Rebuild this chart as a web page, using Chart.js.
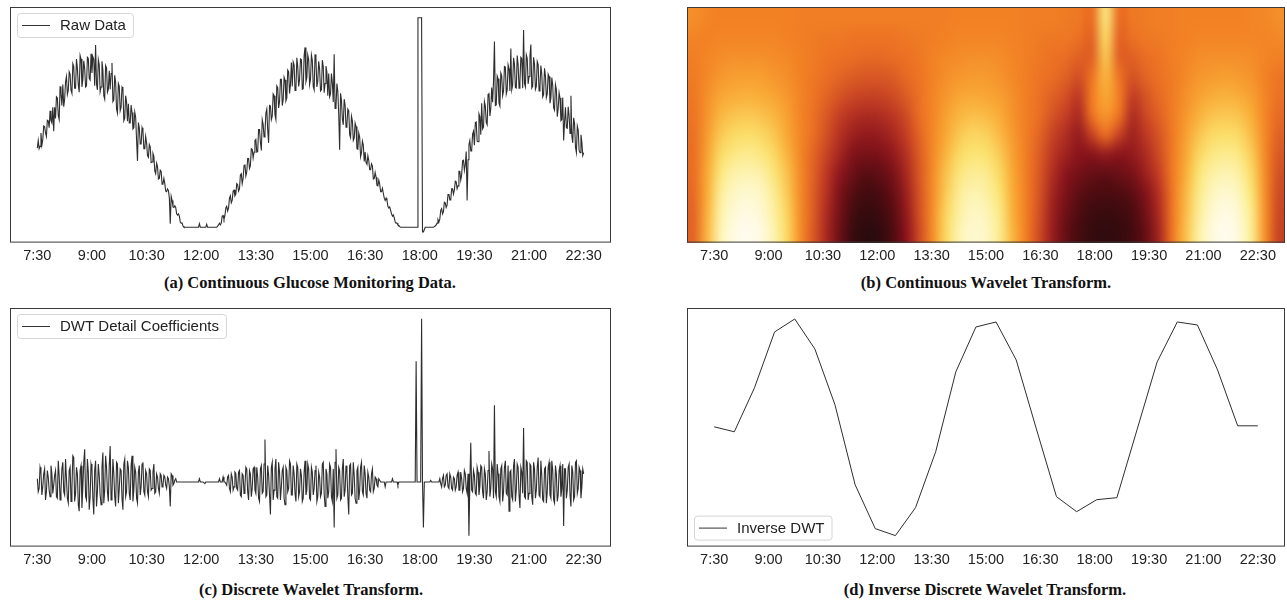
<!DOCTYPE html>
<html>
<head>
<meta charset="utf-8">
<script src="https://cdn.jsdelivr.net/npm/chart.js@4.4.1/dist/chart.umd.min.js"></script>
<style>
  body { margin: 0; background: #fff; width: 1287px; height: 607px; position: relative; overflow: hidden; }
  .panel { position: absolute; }
  .caption { position: absolute; width: 600px; text-align: center; white-space: nowrap;
             font-family: "Liberation Serif", serif; font-weight: bold; font-size: 16.5px; line-height: 20px; color: #111; }
</style>
</head>
<body>
<div class="panel" style="left:0;top:0"><canvas id="rawChart" width="625" height="270"></canvas></div>
<div class="panel" style="left:677px;top:0"><canvas id="cwtChart" width="610" height="270"></canvas></div>
<div class="panel" style="left:0;top:300px"><canvas id="dwtChart" width="625" height="275"></canvas></div>
<div class="panel" style="left:677px;top:300px"><canvas id="idwtChart" width="610" height="275"></canvas></div>

<div class="caption" style="left:10px;top:273px">(a) Continuous Glucose Monitoring Data.</div>
<div class="caption" style="left:686px;top:273px">(b) Continuous Wavelet Transform.</div>
<div class="caption" style="left:11px;top:580px">(c) Discrete Wavelet Transform.</div>
<div class="caption" style="left:685px;top:580px">(d) Inverse Discrete Wavelet Transform.</div>

<script>
// time axis, minutes since midnight
const tickMinutes = [450, 540, 630, 720, 810, 900, 990, 1080, 1170, 1260, 1350];
const tickLabels = ['7:30', '9:00', '10:30', '12:00', '13:30', '15:00', '16:30', '18:00', '19:30', '21:00', '22:30'];
const sampleStart = 450; // 7:30
const rawStep = 1.5;     // minutes between samples

// (a) raw CGM readings, one line per half hour
const rawGlucose = [
  176,189,175,179,202,181,190,214,213,202,196,224,223,211,240,223,219,246,205,246,
  227,264,262,232,225,282,270,249,285,247,260,290,299,268,275,307,303,275,270,321,
  316,279,279,329,313,285,272,335,329,281,294,326,313,281,283,332,330,296,293,338,
  305,333,329,283,353,286,276,328,319,273,281,325,310,266,260,318,314,272,277,309,
  277,304,322,256,259,301,289,243,236,287,282,240,246,281,278,223,227,266,255,222,
  252,219,219,250,237,209,211,238,229,190,154,220,211,183,183,211,205,175,175,196,
  185,163,160,182,178,151,152,167,162,137,132,150,144,123,124,138,136,114,115,124,
  115,102,101,106,103,90,46,93,86,75,74,77,74,63,61,63,59,49,47,47,
  42,40,40,40,40,40,40,40,40,40,40,40,40,40,40,40,40,40,46,40,
  40,40,40,40,40,40,45,40,40,40,40,40,40,40,40,40,40,40,42,44,
  47,44,47,59,60,54,60,73,76,68,73,90,94,82,86,102,104,94,97,115,
  113,102,106,130,132,115,124,146,148,128,135,158,158,141,146,175,174,159,169,189,
  191,169,170,208,208,186,172,225,217,195,203,236,243,207,185,249,248,225,231,269,
  266,233,225,283,280,245,256,294,294,249,259,298,293,257,262,310,307,270,285,323,
  282,324,319,275,277,331,316,282,294,329,328,277,278,335,349,290,297,336,328,285,
  294,336,327,282,276,337,328,281,291,325,312,274,276,327,316,271,287,317,306,266,
  304,264,269,304,288,255,337,244,247,287,273,234,173,270,258,226,216,260,250,212,
  216,243,240,199,194,231,223,189,193,219,213,175,174,202,195,161,168,188,181,153,
  169,151,148,163,155,139,139,149,145,123,124,134,126,112,111,121,114,101,101,107,
  98,90,86,90,86,76,73,75,69,63,59,61,56,49,47,47,44,43,41,40,
  40,40,40,40,40,40,40,40,40,40,40,40,40,40,40,40,40,40,400,400,
  400,400,400,32,32,36,40,40,40,40,40,40,40,40,40,40,41,42,44,47,
  53,49,54,69,72,63,67,83,82,74,78,96,97,87,87,106,106,97,104,119,
  118,106,111,136,136,121,130,154,155,138,148,170,86,156,182,189,171,171,200,205,
  181,220,221,188,187,235,230,199,253,209,212,256,248,220,216,268,271,231,244,280,
  255,291,359,249,250,300,295,253,248,305,300,266,274,316,315,269,276,319,312,274,
  347,276,284,331,320,280,279,335,319,279,291,332,330,279,379,287,281,336,330,286,
  299,334,354,279,282,332,320,277,282,325,320,274,281,318,303,264,268,313,300,263,
  269,303,299,253,262,297,284,245,241,285,277,230,244,271,262,223,225,263,189,221,
  246,211,210,247,231,201,266,197,185,228,218,177,168,214,207,172,168,199,186,163,
  168
];

// (c) DWT detail coefficients, same sampling
const dwtDetail = [
  2,-6,-4,9,6,-8,-3,5,8,-11,-6,7,3,-5,-9,10,5,-7,-2,4,
  7,-9,-10,13,4,-11,-5,8,12,-6,-8,14,2,-10,-13,7,9,-12,-4,16,
  15,-12,-7,9,5,-14,-18,7,10,-16,-3,12,20,-9,-11,14,6,-17,-9,11,
  8,-10,-20,7,13,-15,-6,11,4,-8,-14,9,18,-13,-5,16,9,-6,-12,10,
  22,-11,-8,14,5,-9,-15,12,11,-13,-4,8,7,-10,-17,11,14,-9,-6,13,
  9,-7,-11,10,16,-12,-5,9,6,-10,-13,6,10,-8,-3,11,12,-6,-8,7,
  5,-6,-9,8,7,-5,-4,6,11,-7,-6,5,3,-4,-7,5,4,-3,-2,4,
  3,-2,-4,3,2,-3,-15,5,4,-2,-1,1,2,0,0,0,0,0,0,0,
  0,0,0,0,0,0,0,0,0,0,0,0,0,0,0,0,0,0,2,0,
  0,0,0,0,-1,0,0,0,0,0,0,0,0,0,0,0,0,0,0,0,
  2,0,0,0,3,0,0,-1,-2,3,4,-4,-6,5,3,-5,-3,6,5,-4,
  -5,6,7,-8,-9,5,4,-7,-3,9,8,-6,-11,7,5,-9,-4,8,9,-5,
  -7,9,3,-10,-12,8,10,-7,-6,11,26,-9,-8,10,4,-8,-20,9,12,-11,
  -5,8,14,-9,-10,12,6,-11,-3,7,9,-10,-14,9,7,-6,-4,13,11,-8,
  -8,10,5,-7,-12,11,9,-9,-6,8,4,-12,-10,6,13,-8,-5,11,8,-10,
  -11,9,6,-8,-4,7,10,-12,-9,6,3,-9,-7,11,12,-7,-15,8,5,-10,
  -6,11,9,-9,-12,8,-28,12,20,-10,-8,9,7,-11,-10,8,14,-9,-5,10,
  6,-9,-20,10,11,-8,-7,12,4,-10,-13,7,9,-11,-5,9,12,-6,-8,10,
  5,-7,-10,6,3,-5,-6,5,8,-6,-4,3,2,-2,-3,2,1,0,0,0,
  0,0,-3,0,0,0,0,0,0,0,2,0,0,0,0,0,-2,0,0,0,
  0,0,0,0,0,0,0,0,0,0,0,0,0,0,0,0,74,0,0,0,
  0,0,100,0,-28,0,0,0,0,0,0,0,1,0,0,0,0,0,0,0,
  0,0,2,-1,-3,2,4,-3,-2,4,5,-3,-4,5,3,-4,-5,3,2,-5,
  -3,4,6,-5,-5,6,2,-6,-4,7,5,-4,-7,5,-33,0,24,-5,-6,7,
  4,-7,-8,9,6,-8,-3,10,9,-6,-10,8,5,-11,-6,7,19,-9,-4,11,
  8,-10,47,-6,-9,11,5,-9,-12,8,10,-12,-6,9,13,-7,-8,10,-18,6,
  7,-9,-11,10,14,-12,-5,11,9,-8,-16,9,6,-7,33,-9,-10,13,12,-11,
  -7,11,10,-9,-14,12,8,-10,-5,9,15,-8,-9,13,4,-11,-12,8,9,-13,
  -6,9,12,-8,-10,13,7,-11,-13,10,5,-12,-8,7,10,-9,-4,11,-27,8,
  8,-10,-5,9,11,-8,-15,10,6,-11,-9,12,13,-7,-4,9,7,-10,-3,8,
  5
];

// (d) inverse DWT, 28 samples over 7:30-22:30
const idwtStep = 900 / 27;
const idwtValues = [170,165,209,265,278,248,192,112,68,61,89,145,225,270,275,237,168,100,85,97,99,167,235,275,272,227,171,171];

// (b) CWT magnitude, rows top (large scale) to bottom, 45 columns of 22 min from 6:45
const cwtColStart = 405;
const cwtColWidth = 22;
const cwtRows = [
  [0.60,0.57,0.56,0.56,0.56,0.56,0.56,0.56,0.55,0.55,0.55,0.55,0.55,0.55,0.55,0.55,0.55,0.55,0.55,0.55,0.56,0.56,0.56,0.56,0.56,0.55,0.55,0.55,0.54,0.53,0.50,0.82,0.50,0.53,0.54,0.55,0.55,0.56,0.56,0.56,0.56,0.56,0.57,0.58,0.60],
  [0.57,0.56,0.57,0.57,0.57,0.57,0.57,0.56,0.55,0.54,0.53,0.53,0.52,0.52,0.52,0.52,0.53,0.54,0.55,0.56,0.57,0.57,0.57,0.57,0.56,0.55,0.54,0.53,0.53,0.51,0.48,0.78,0.48,0.51,0.53,0.54,0.55,0.56,0.57,0.57,0.57,0.57,0.57,0.57,0.58],
  [0.55,0.57,0.59,0.60,0.60,0.60,0.59,0.58,0.56,0.54,0.52,0.51,0.50,0.49,0.49,0.50,0.51,0.53,0.56,0.58,0.59,0.60,0.60,0.59,0.57,0.55,0.53,0.51,0.50,0.47,0.47,0.74,0.47,0.47,0.50,0.52,0.55,0.57,0.59,0.60,0.60,0.60,0.59,0.57,0.56],
  [0.54,0.58,0.62,0.64,0.64,0.64,0.62,0.60,0.56,0.53,0.50,0.48,0.46,0.45,0.45,0.46,0.49,0.52,0.56,0.60,0.62,0.63,0.63,0.61,0.58,0.55,0.52,0.50,0.47,0.43,0.52,0.70,0.52,0.44,0.48,0.51,0.54,0.58,0.62,0.63,0.64,0.63,0.61,0.56,0.52],
  [0.53,0.60,0.66,0.68,0.69,0.68,0.66,0.62,0.57,0.52,0.48,0.44,0.41,0.40,0.40,0.42,0.46,0.51,0.57,0.62,0.66,0.67,0.66,0.64,0.60,0.55,0.51,0.47,0.43,0.38,0.55,0.67,0.55,0.39,0.44,0.49,0.54,0.60,0.65,0.68,0.69,0.68,0.64,0.57,0.51],
  [0.52,0.61,0.70,0.73,0.74,0.73,0.70,0.65,0.57,0.51,0.45,0.39,0.35,0.33,0.34,0.37,0.42,0.50,0.57,0.65,0.70,0.72,0.71,0.68,0.61,0.55,0.50,0.44,0.39,0.33,0.52,0.62,0.52,0.34,0.41,0.47,0.54,0.62,0.69,0.73,0.74,0.73,0.68,0.57,0.49],
  [0.51,0.63,0.74,0.78,0.79,0.78,0.74,0.67,0.58,0.50,0.43,0.35,0.29,0.27,0.28,0.32,0.39,0.48,0.58,0.67,0.74,0.77,0.76,0.71,0.63,0.55,0.48,0.40,0.34,0.28,0.40,0.50,0.40,0.30,0.37,0.44,0.53,0.64,0.73,0.78,0.79,0.78,0.71,0.58,0.47],
  [0.50,0.65,0.78,0.83,0.85,0.83,0.78,0.70,0.58,0.48,0.40,0.31,0.23,0.21,0.22,0.27,0.35,0.46,0.58,0.70,0.78,0.81,0.80,0.75,0.65,0.55,0.46,0.37,0.30,0.25,0.25,0.28,0.25,0.27,0.33,0.42,0.53,0.66,0.77,0.83,0.85,0.83,0.75,0.58,0.45],
  [0.50,0.67,0.82,0.89,0.90,0.89,0.82,0.73,0.59,0.47,0.37,0.26,0.18,0.14,0.16,0.21,0.32,0.45,0.59,0.73,0.82,0.86,0.85,0.78,0.67,0.55,0.45,0.34,0.25,0.20,0.17,0.16,0.18,0.21,0.29,0.39,0.53,0.68,0.81,0.88,0.90,0.88,0.78,0.59,0.43],
  [0.49,0.68,0.86,0.93,0.95,0.93,0.86,0.75,0.59,0.46,0.35,0.22,0.13,0.09,0.11,0.17,0.29,0.44,0.59,0.75,0.86,0.90,0.88,0.81,0.68,0.55,0.44,0.31,0.22,0.15,0.12,0.11,0.12,0.15,0.23,0.35,0.52,0.70,0.84,0.92,0.95,0.92,0.81,0.59,0.42],
  [0.48,0.69,0.88,0.96,0.98,0.96,0.88,0.77,0.60,0.46,0.33,0.20,0.09,0.06,0.08,0.14,0.27,0.43,0.60,0.77,0.88,0.93,0.91,0.84,0.69,0.55,0.43,0.29,0.19,0.12,0.08,0.07,0.08,0.11,0.20,0.33,0.52,0.71,0.86,0.95,0.98,0.95,0.84,0.60,0.41],
  [0.48,0.70,0.90,0.98,1.00,0.98,0.90,0.78,0.60,0.45,0.32,0.18,0.07,0.03,0.05,0.12,0.25,0.42,0.60,0.78,0.90,0.95,0.93,0.85,0.70,0.55,0.42,0.28,0.17,0.10,0.06,0.05,0.06,0.09,0.17,0.31,0.52,0.72,0.88,0.97,1.00,0.97,0.85,0.60,0.40]
];

// colormap stops (value, rgb)
const heatStops = [
  [0.00, [28, 10, 12]], [0.12, [78, 12, 16]], [0.25, [138, 20, 28]], [0.38, [192, 58, 36]],
  [0.50, [234, 110, 36]], [0.56, [242, 129, 36]], [0.68, [249, 172, 55]], [0.80, [251, 226, 110]],
  [0.90, [253, 243, 178]], [1.00, [255, 252, 238]]
];

function heatColor(v) {
  for (let i = 1; i < heatStops.length; i++) {
    const [p1, c1] = heatStops[i], [p0, c0] = heatStops[i - 1];
    if (v <= p1) {
      const t = (v - p0) / (p1 - p0);
      return c0.map((c, k) => Math.round(c + (c1[k] - c) * t));
    }
  }
  return heatStops[heatStops.length - 1][1];
}

Chart.defaults.font.family = '"Liberation Sans", Arial, sans-serif';
Chart.defaults.animation = false;

function timeAxis() {
  return {
    type: 'linear',
    min: 405,
    max: 1395,
    grid: { display: false, drawTicks: false },
    border: { display: false },
    afterBuildTicks: (scale) => { scale.ticks = tickMinutes.map(v => ({ value: v })); },
    ticks: {
      padding: 5,
      color: '#222',
      autoSkip: false,
      maxRotation: 0,
      font: { size: 14.5 },
      callback: (v, i) => tickLabels[i]
    }
  };
}

// axes box like matplotlib spines
const framePlugin = {
  id: 'frame',
  afterDatasetsDraw(chart) {
    const { ctx, chartArea: a } = chart;
    ctx.save();
    ctx.strokeStyle = '#3a3a3a';
    ctx.lineWidth = 1;
    ctx.strokeRect(a.left + 0.5, a.top + 0.5, a.right - a.left - 1, a.bottom - a.top - 1);
    ctx.restore();
  }
};

// legend inside the axes
const boxLegend = {
  id: 'boxLegend',
  afterDraw(chart, args, opts) {
    const { ctx, chartArea: a } = chart;
    const label = chart.data.datasets[0].label;
    ctx.save();
    ctx.font = '15px "Liberation Sans", Arial, sans-serif';
    const tw = ctx.measureText(label).width;
    const w = 44 + tw + 6, h = 24;
    const x = a.left + 7;
    const y = opts.corner === 'bottom' ? a.bottom - 7 - h : a.top + 6;
    ctx.beginPath();
    ctx.roundRect(x + 0.5, y + 0.5, w, h, 3);
    ctx.fillStyle = 'rgba(255,255,255,0.85)';
    ctx.fill();
    ctx.strokeStyle = '#d6d6d6';
    ctx.lineWidth = 1;
    ctx.stroke();
    ctx.beginPath();
    ctx.moveTo(x + 5, y + h / 2 + 0.5);
    ctx.lineTo(x + 33, y + h / 2 + 0.5);
    ctx.strokeStyle = '#333';
    ctx.stroke();
    ctx.fillStyle = '#222';
    ctx.textBaseline = 'middle';
    ctx.fillText(label, x + 43, y + h / 2 + 1);
    ctx.restore();
  }
};

// CWT image drawn over the axes using the chart scales
const heatPlugin = {
  id: 'heat',
  beforeDatasetsDraw(chart) {
    const { ctx, scales: { x: xs, y: ys } } = chart;
    const nRows = cwtRows.length, nCols = cwtRows[0].length;
    const off = document.createElement('canvas');
    off.width = nCols;
    off.height = nRows;
    const octx = off.getContext('2d');
    const img = octx.createImageData(nCols, nRows);
    cwtRows.forEach((row, r) => row.forEach((v, c) => {
      const rgb = heatColor(v);
      const k = 4 * (r * nCols + c);
      img.data[k] = rgb[0]; img.data[k + 1] = rgb[1]; img.data[k + 2] = rgb[2]; img.data[k + 3] = 255;
    }));
    octx.putImageData(img, 0, 0);
    const x0 = xs.getPixelForValue(cwtColStart);
    const x1 = xs.getPixelForValue(cwtColStart + nCols * cwtColWidth);
    const y0 = ys.getPixelForValue(nRows);
    const y1 = ys.getPixelForValue(0);
    ctx.save();
    ctx.imageSmoothingEnabled = true;
    ctx.imageSmoothingQuality = 'high';
    ctx.drawImage(off, x0, y0, x1 - x0, y1 - y0);
    ctx.restore();
  }
};

function lineChart(id, label, points, yMin, yMax, width, corner, padding) {
  return new Chart(document.getElementById(id), {
    type: 'line',
    data: {
      datasets: [{
        label: label,
        data: points,
        borderColor: '#2e2e2e',
        borderWidth: width,
        pointRadius: 0,
        tension: 0,
        fill: false
      }]
    },
    options: {
      responsive: false,
      layout: { padding: padding },
      scales: {
        x: timeAxis(),
        y: { display: false, min: yMin, max: yMax }
      },
      plugins: {
        legend: { display: false },
        tooltip: { enabled: false },
        boxLegend: { corner: corner }
      }
    },
    plugins: [framePlugin, boxLegend]
  });
}

const rawPoints = rawGlucose.map((v, i) => ({ x: sampleStart + i * rawStep, y: v }));
const dwtPoints = dwtDetail.map((v, i) => ({ x: sampleStart + i * rawStep, y: v }));
const idwtPoints = idwtValues.map((v, i) => ({ x: sampleStart + i * idwtStep, y: v }));

lineChart('rawChart', 'Raw Data', rawPoints, 13.6, 418.4, 1.1, 'top', { left: 10, top: 7, right: 14, bottom: 0 });
lineChart('dwtChart', 'DWT Detail Coefficients', dwtPoints, -39.65, 106.65, 1.1, 'top', { left: 10, top: 8, right: 14, bottom: 1 });
lineChart('idwtChart', 'Inverse DWT', idwtPoints, 50, 289, 1, 'bottom', { left: 10, top: 8, right: 2, bottom: 1 });

new Chart(document.getElementById('cwtChart'), {
  type: 'scatter',
  data: { datasets: [{ label: 'CWT', data: [] }] },
  options: {
    responsive: false,
    layout: { padding: { left: 10, top: 7, right: 2, bottom: 0 } },
    scales: {
      x: timeAxis(),
      y: { display: false, min: 0, max: cwtRows.length }
    },
    plugins: { legend: { display: false }, tooltip: { enabled: false } }
  },
  plugins: [heatPlugin, framePlugin]
});
</script>
</body>
</html>
